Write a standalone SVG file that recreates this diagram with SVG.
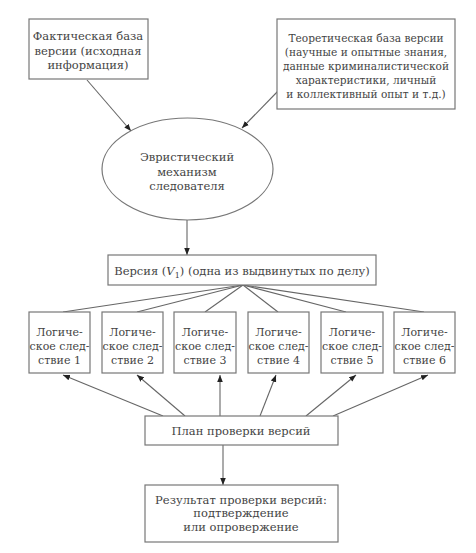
<svg xmlns="http://www.w3.org/2000/svg" width="476" height="553" viewBox="0 0 476 553">
<defs>
<marker id="ah" viewBox="0 0 10 10" refX="10" refY="5" markerWidth="7" markerHeight="7" orient="auto" markerUnits="userSpaceOnUse">
<path d="M0,1 L10,5 L0,9 Z" fill="#222"/>
</marker>
<style>
.box{fill:#fff;stroke:#777;stroke-width:1.2}
.t{font-family:"DejaVu Serif","Liberation Serif",serif;font-size:11.5px;fill:#444;text-anchor:middle}
.s{font-size:11px}
.r{font-size:10.6px}
.c{stroke:#666;stroke-width:1.1;fill:none}
.a{stroke:#666;stroke-width:1.1;fill:none;marker-end:url(#ah)}
</style>
</defs>
<rect width="476" height="553" fill="#fff"/>
<g id="connectors">
<line class="a" x1="87" y1="80" x2="131" y2="131"/>
<line class="a" x1="279" y1="90" x2="242" y2="128"/>
<line class="a" x1="187" y1="220" x2="187" y2="255"/>
<line class="c" x1="243" y1="285" x2="63" y2="312"/>
<line class="c" x1="243" y1="285" x2="137" y2="312"/>
<line class="c" x1="243" y1="285" x2="205" y2="312"/>
<line class="c" x1="243" y1="285" x2="278" y2="312"/>
<line class="c" x1="243" y1="285" x2="346" y2="312"/>
<line class="c" x1="243" y1="285" x2="424" y2="312"/>
<line class="a" x1="163" y1="416" x2="63" y2="375"/>
<line class="a" x1="185" y1="416" x2="137" y2="375"/>
<line class="a" x1="220" y1="416" x2="220" y2="375"/>
<line class="a" x1="260" y1="416" x2="276" y2="375"/>
<line class="a" x1="306" y1="416" x2="356" y2="375"/>
<line class="a" x1="333" y1="416" x2="428" y2="375"/>
<line class="a" x1="223" y1="445" x2="223" y2="485"/>
</g>
<g id="fact">
<rect class="box" x="29" y="19" width="119" height="60"/>
<text class="t" x="88" y="40">Фактическая база</text>
<text class="t" x="88" y="55">версии (исходная</text>
<text class="t" x="88" y="69">информация)</text>
</g>
<g id="theory">
<rect class="box" x="277" y="19" width="178" height="90"/>
<text class="t r" x="366" y="42">Теоретическая база версии</text>
<text class="t r" x="366" y="56">(научные и опытные знания,</text>
<text class="t r" x="366" y="70">данные криминалистической</text>
<text class="t r" x="366" y="84">характеристики, личный</text>
<text class="t r" x="366" y="98">и коллективный опыт и т.д.)</text>
</g>
<g id="heuristic">
<ellipse class="box" cx="187.5" cy="169" rx="85.5" ry="51"/>
<text class="t" x="187" y="161">Эвристический</text>
<text class="t" x="187" y="176">механизм</text>
<text class="t" x="187" y="190">следователя</text>
</g>
<g id="version">
<rect class="box" x="108" y="255" width="268" height="30"/>
<text class="t" x="242" y="275">Версия (<tspan font-style="italic">V</tspan><tspan font-size="8" dy="3">1</tspan><tspan dy="-3">) (одна из выдвинутых по делу)</tspan></text>
</g>
<g id="ls1">
<rect class="box" x="29" y="312" width="61" height="61"/>
<text class="t s" x="59.5" y="336">Логиче-</text>
<text class="t s" x="59.5" y="350">ское след-</text>
<text class="t s" x="59.5" y="364">ствие 1</text>
</g>
<g id="ls2">
<rect class="box" x="102" y="312" width="61" height="61"/>
<text class="t s" x="132.5" y="336">Логиче-</text>
<text class="t s" x="132.5" y="350">ское след-</text>
<text class="t s" x="132.5" y="364">ствие 2</text>
</g>
<g id="ls3">
<rect class="box" x="174" y="312" width="62" height="61"/>
<text class="t s" x="205" y="336">Логиче-</text>
<text class="t s" x="205" y="350">ское след-</text>
<text class="t s" x="205" y="364">ствие 3</text>
</g>
<g id="ls4">
<rect class="box" x="248" y="312" width="61" height="61"/>
<text class="t s" x="278.5" y="336">Логиче-</text>
<text class="t s" x="278.5" y="350">ское след-</text>
<text class="t s" x="278.5" y="364">ствие 4</text>
</g>
<g id="ls5">
<rect class="box" x="321" y="312" width="62" height="61"/>
<text class="t s" x="352" y="336">Логиче-</text>
<text class="t s" x="352" y="350">ское след-</text>
<text class="t s" x="352" y="364">ствие 5</text>
</g>
<g id="ls6">
<rect class="box" x="394" y="312" width="61" height="61"/>
<text class="t s" x="424.5" y="336">Логиче-</text>
<text class="t s" x="424.5" y="350">ское след-</text>
<text class="t s" x="424.5" y="364">ствие 6</text>
</g>
<g id="plan">
<rect class="box" x="145" y="416" width="193" height="29"/>
<text class="t" x="241" y="435">План проверки версий</text>
</g>
<g id="result">
<rect class="box" x="145" y="485" width="193" height="57"/>
<text class="t" x="241" y="504">Результат проверки версий:</text>
<text class="t" x="241" y="517">подтверждение</text>
<text class="t" x="241" y="531">или опровержение</text>
</g>
</svg>
